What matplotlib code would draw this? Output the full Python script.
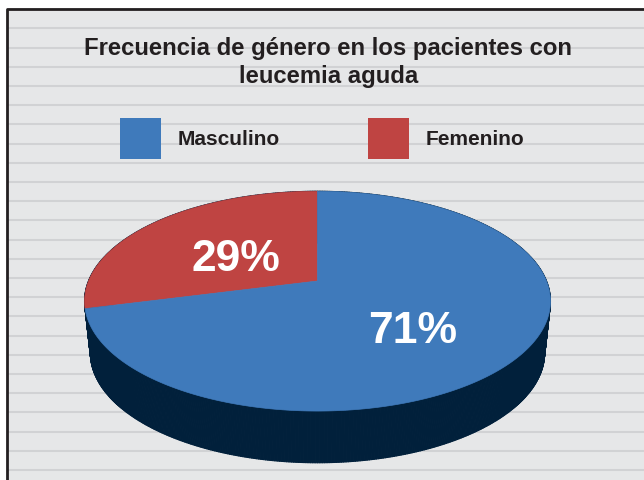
import numpy as np
import matplotlib.pyplot as plt
from matplotlib.patches import Rectangle, Polygon
from matplotlib.collections import PolyCollection

# data
labels = ['Masculino', 'Femenino']
values = [71, 29]
pct_labels = ['71%', '29%']
colors = ['#3F7ABB', '#BF4442']
side_color = '#01203B'
title = 'Frecuencia de género en los pacientes con\nleucemia aguda'

FONT = ['Liberation Sans Narrow', 'Liberation Sans', 'DejaVu Sans']
txt_col = '#231F20'

fig = plt.figure(figsize=(6.44, 4.80), dpi=100)
ax = fig.add_axes([0, 0, 1, 1])
ax.set_xlim(0, 644)
ax.set_ylim(480, 0)
ax.axis('off')

# background with stripes + frame
ax.add_patch(Rectangle((7, 8), 640, 475, facecolor='#E6E7E8', edgecolor='none', zorder=0))
ax.hlines(28.3 + 19.2 * np.arange(24), 8, 644, color='#D1D2D4', lw=1.5, zorder=1)
ax.plot([7.5, 7.5, 644], [480, 8.5, 8.5], color=txt_col, lw=2, zorder=2, solid_capstyle='butt')

# 3d pie geometry (perspective)
x0, y0 = 317.5, 281
a, b, k = 229, 106.2, 0.1834
depth, shrink = 51.7, 0.975


def top(t):
    u, v = np.cos(t), np.sin(t)
    return x0 + a * u / (1 + k * v), y0 - b * v / (1 + k * v)


def bottom(t):
    X, Y = top(t)
    return x0 + (X - x0) * shrink, Y + depth


t = np.linspace(0, 2 * np.pi, 721)
tx, ty = top(t)
bx, by = bottom(t)
quads = [[(tx[i], ty[i]), (tx[i + 1], ty[i + 1]), (bx[i + 1], by[i + 1]), (bx[i], by[i])]
         for i in range(len(t) - 1)]
ax.add_collection(PolyCollection(quads, facecolor=side_color, edgecolor=side_color, lw=0.8, zorder=3))

# top faces: red starts at 12 o'clock counter-clockwise, blue the rest
start = np.pi / 2
fracs = np.array(values[::-1]) / sum(values)
cols = colors[::-1]
ang = start
for f, c in zip(fracs, cols):
    tt = np.linspace(ang, ang + f * 2 * np.pi, 300)
    px, py = top(tt)
    pts = np.column_stack([np.r_[x0, px], np.r_[y0, py]])
    ax.add_patch(Polygon(pts, closed=True, facecolor=c, edgecolor=c, lw=0.5, zorder=4))
    ang += f * 2 * np.pi

# percent labels
ax.text(413, 343, pct_labels[0], color='white', fontsize=32, fontweight='bold',
        family=FONT, ha='center', va='baseline', zorder=5)
ax.text(236, 271, pct_labels[1], color='white', fontsize=32, fontweight='bold',
        family=FONT, ha='center', va='baseline', zorder=5)

# title
for i, line in enumerate(title.split('\n')):
    ax.text(328.5, 54.7 + 28.5 * i, line, color=txt_col, fontsize=17.2, fontweight='bold',
            family=FONT, ha='center', va='baseline', zorder=5)

# legend
for lx, lab, c in zip([120, 368], labels, colors):
    ax.add_patch(Rectangle((lx, 118), 41, 41, facecolor=c, edgecolor='none', zorder=5))
    ax.text(lx + 58, 145, lab, color=txt_col, fontsize=15, fontweight='bold',
            family=FONT, ha='left', va='baseline', zorder=5)

fig.savefig('out.png', dpi=100)
